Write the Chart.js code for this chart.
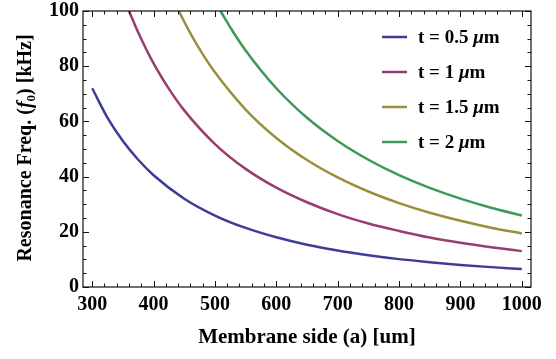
<!DOCTYPE html>
<html>
<head>
<meta charset="utf-8">
<script src="https://cdn.jsdelivr.net/npm/chart.js@4.4.1/dist/chart.umd.min.js"></script>
<style>
  html, body { margin: 0; padding: 0; background: #fff; }
  #wrap { width: 556px; height: 359px; position: relative; }
</style>
</head>
<body>
<div id="wrap"><canvas id="freqChart"></canvas></div>
<script>
/* ---- Data: resonance frequency vs membrane side ---- */

const thicknessLabels = ["0.5", "1", "1.5", "2"];

const sideT05 = [300, 325, 350, 375, 400, 450, 500, 550, 600, 650, 700, 750, 800, 850, 900, 950, 1000];
const freqT05 = [72.0, 61.3, 52.9, 46.1, 40.5, 32.0, 25.9, 21.4, 18.0, 15.3, 13.2, 11.5, 10.1, 9.0, 8.0, 7.2, 6.5];

const sideT1 = [360, 375, 400, 425, 450, 500, 550, 600, 650, 700, 750, 800, 850, 900, 950, 1000];
const freqT1 = [100, 92.2, 81.0, 71.8, 64.0, 51.8, 42.8, 36.0, 30.7, 26.4, 23.0, 20.3, 17.9, 16.0, 14.4, 13.0];

const sideT15 = [441, 460, 480, 500, 550, 600, 650, 700, 750, 800, 850, 900, 950, 1000];
const freqT15 = [100, 91.9, 84.4, 77.8, 64.3, 54.0, 46.0, 39.7, 34.6, 30.4, 26.9, 24.0, 21.5, 19.4];

const sideT2 = [509, 530, 550, 600, 650, 700, 750, 800, 850, 900, 950, 1000];
const freqT2 = [100, 92.3, 85.7, 72.0, 61.3, 52.9, 46.1, 40.5, 35.9, 32.0, 28.7, 25.9];

const xTicks = [300, 400, 500, 600, 700, 800, 900, 1000];
const yTicks = [0, 20, 40, 60, 80, 100];

/* ---- Theme ---- */

const serif = '"Liberation Serif", "Times New Roman", serif';
const lineColors = ["#3d3d99", "#993d71", "#998f3d", "#3d9956"];

const toPoints = (xs, ys) => xs.map((x, i) => ({ x, y: ys[i] }));

const seriesPoints = [
  toPoints(sideT05, freqT05),
  toPoints(sideT1, freqT1),
  toPoints(sideT15, freqT15),
  toPoints(sideT2, freqT2),
];

/* ---- Plugins ---- */

// Closed frame with inward major/minor ticks on all four sides
const frameTicks = {
  id: "frameTicks",
  afterDatasetsDraw(chart) {
    const { ctx, chartArea: a, scales } = chart;
    const { x, y } = scales;
    ctx.save();
    ctx.strokeStyle = "#111";
    ctx.lineWidth = 1.2;
    ctx.strokeRect(a.left, a.top, a.right - a.left, a.bottom - a.top);
    ctx.lineWidth = 1;
    ctx.beginPath();
    for (let v = 300; v <= 1000; v += 20) {
      const px = Math.round(x.getPixelForValue(v)) + 0.5;
      const len = v % 100 === 0 ? 6 : 3.5;
      ctx.moveTo(px, a.bottom); ctx.lineTo(px, a.bottom - len);
      ctx.moveTo(px, a.top); ctx.lineTo(px, a.top + len);
    }
    for (let v = 0; v <= 100; v += 5) {
      const py = Math.round(y.getPixelForValue(v)) + 0.5;
      const len = v % 20 === 0 ? 6 : 3.5;
      ctx.moveTo(a.left, py); ctx.lineTo(a.left + len, py);
      ctx.moveTo(a.right, py); ctx.lineTo(a.right - len, py);
    }
    ctx.stroke();
    ctx.restore();
  },
};

// Draws a run of differently styled text pieces, returns total width
const drawRuns = (ctx, runs, x, y, measureOnly) => {
  let cx = x;
  runs.forEach((r) => {
    ctx.font = r.font;
    const w = ctx.measureText(r.text).width;
    if (!measureOnly) ctx.fillText(r.text, cx, y + (r.dy || 0));
    cx += w;
  });
  return cx - x;
};

// Y axis title with italic f and subscript 0
const yTitle = {
  id: "yTitle",
  afterDraw(chart) {
    const { ctx } = chart;
    const b = `bold 20px ${serif}`;
    const runs = [
      { text: "Resonance Freq. (", font: b },
      { text: "f", font: `italic bold 20px ${serif}` },
      { text: "0", font: `bold 13px ${serif}`, dy: 4 },
      { text: ") [kHz]", font: b },
    ];
    ctx.save();
    ctx.fillStyle = "#000";
    ctx.textBaseline = "alphabetic";
    const w = drawRuns(ctx, runs, 0, 0, true);
    ctx.translate(31, 148);
    ctx.rotate(-Math.PI / 2);
    drawRuns(ctx, runs, -w / 2, 0, false);
    ctx.restore();
  },
};

// Legend inside the top-right corner of the plot
const insideLegend = {
  id: "insideLegend",
  afterDraw(chart) {
    const { ctx } = chart;
    ctx.save();
    ctx.textBaseline = "middle";
    ctx.fillStyle = "#000";
    chart.data.datasets.forEach((ds, i) => {
      const rowY = 37 + i * 35;
      ctx.strokeStyle = ds.borderColor;
      ctx.lineWidth = 2.5;
      ctx.beginPath();
      ctx.moveTo(382, rowY);
      ctx.lineTo(407, rowY);
      ctx.stroke();
      drawRuns(ctx, [
        { text: `t = ${thicknessLabels[i]} `, font: `bold 19px ${serif}` },
        { text: "\u03bc", font: `italic bold 19px ${serif}` },
        { text: "m", font: `bold 19px ${serif}` },
      ], 418, rowY + 1, false);
    });
    ctx.restore();
  },
};

/* ---- Chart ---- */

new Chart(document.getElementById("freqChart"), {
  type: "line",
  data: {
    datasets: seriesPoints.map((pts, i) => ({
      label: `t = ${thicknessLabels[i]} \u03bcm`,
      data: pts,
      borderColor: lineColors[i],
      borderWidth: 2.5,
      pointRadius: 0,
      fill: false,
      cubicInterpolationMode: "monotone",
    })),
  },
  options: {
    responsive: true,
    maintainAspectRatio: false,
    animation: false,
    layout: { padding: { top: 11, right: 25, left: 0, bottom: 0 } },
    plugins: {
      legend: { display: false },
      tooltip: { enabled: false },
    },
    scales: {
      x: {
        type: "linear",
        min: 285,
        max: 1015,
        afterBuildTicks: (s) => { s.ticks = xTicks.map((v) => ({ value: v })); },
        afterFit: (s) => { s.height = 72; s.paddingLeft = 0; s.paddingRight = 0; },
        grid: { display: false, drawTicks: false },
        border: { display: false },
        ticks: {
          color: "#000",
          padding: 6,
          maxRotation: 0,
          autoSkip: false,
          callback: (v) => String(v),
          font: { family: serif, size: 20, weight: "bold" },
        },
        title: {
          display: true,
          text: "Membrane side (a) [um]",
          color: "#000",
          padding: { top: 0, bottom: 9 },
          font: { family: serif, size: 21, weight: "bold" },
        },
      },
      y: {
        min: 0,
        max: 100,
        afterBuildTicks: (s) => { s.ticks = yTicks.map((v) => ({ value: v })); },
        afterFit: (s) => { s.width = 83; s.paddingTop = 0; s.paddingBottom = 0; },
        grid: { display: false, drawTicks: false },
        border: { display: false },
        ticks: {
          color: "#000",
          padding: 4,
          font: { family: serif, size: 20, weight: "bold" },
        },
      },
    },
  },
  plugins: [frameTicks, yTitle, insideLegend],
});
</script>
</body>
</html>
